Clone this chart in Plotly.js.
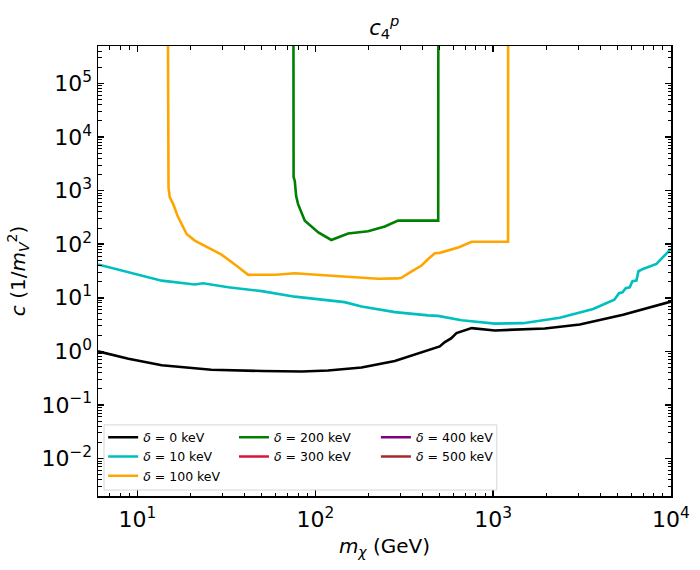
<!DOCTYPE html>
<html>
<head>
<meta charset="utf-8">
<script src="https://cdn.plot.ly/plotly-3.0.1.min.js"></script>
<style>
  body { margin: 0; background: #fff; }
  #chart { width: 700px; height: 570px; }
</style>
</head>
<body>
<div id="chart"></div>
<script>
// values (upper limits on c_4^p)
var TOP = 1e7; // vertical edges run off the top of the frame

var mass0 = [6.0, 8.9, 13.7, 26, 50, 84, 118, 182, 280, 431, 501, 535, 580, 622, 700, 757, 1023, 1574, 1952, 3070, 5380, 10000];
var lim0 = [1.0, 0.73, 0.55, 0.455, 0.43, 0.42, 0.44, 0.50, 0.66, 1.05, 1.24, 1.49, 1.75, 2.19, 2.5, 2.72, 2.46, 2.57, 2.68, 3.18, 4.82, 8.5];

var mass10 = [6.0, 8.9, 13.7, 21, 23.4, 32.4, 50, 76.7, 118, 146, 182, 280, 431, 490, 664, 1023, 1470, 2370, 3650, 4530, 4800, 5100, 5340, 5560, 5860, 6070, 6390, 6560, 6960, 8280, 10000];
var lim10 = [42, 30, 20.9, 17.7, 18.7, 15.7, 13.3, 10.5, 8.9, 8.3, 6.9, 5.4, 4.7, 4.6, 3.8, 3.3, 3.36, 4.24, 6.2, 8.3, 9.2, 12.2, 12.7, 15.1, 15.7, 20.4, 21, 31.3, 34.6, 42.9, 81.8];

var mass100 = [14.8, 14.83, 14.95, 15.2, 15.9, 16.8, 17.7, 18.9, 21, 25, 29.7, 35.3, 42, 60, 76.7, 118, 182, 225, 290, 305, 348, 396, 431, 470, 501, 566, 642, 757, 1213, 1214];
var lim100 = [TOP, 1800, 1150, 746, 560, 340, 239, 155, 117, 85, 64, 41.7, 26.8, 27, 28.7, 26, 23.6, 22.6, 23, 23.6, 31, 40, 53, 68, 69, 78, 88, 111, 111, TOP];

var mass200 = [75.3, 75.5, 76.7, 78, 80, 87.3, 104, 123, 153, 198, 246, 292, 491, 492];
var lim200 = [TOP, 1800, 1500, 800, 560, 275, 166, 120, 159, 174, 214, 275, 275, TOP];

// no limit inside the plotted mass range for the larger splittings
var mass300 = [2e4, 3e4], lim300 = [1, 1];
var mass400 = [2e4, 3e4], lim400 = [1, 1];
var mass500 = [2e4, 3e4], lim500 = [1, 1];

var deltas = ['0', '10', '100', '200', '300', '400', '500'];
var colors = ['black', '#00bfbf', 'orange', 'green', 'crimson', 'purple', 'brown'];
var legendOf = ['legend', 'legend', 'legend', 'legend2', 'legend2', 'legend3', 'legend3'];
var masses = [mass0, mass10, mass100, mass200, mass300, mass400, mass500];
var limits = [lim0, lim10, lim100, lim200, lim300, lim400, lim500];

var traces = [];
for (var i = 0; i < deltas.length; i++) {
  traces.push({
    x: masses[i],
    y: limits[i],
    type: 'scatter',
    mode: 'lines',
    name: '<i>δ</i> = ' + deltas[i] + ' keV',
    legend: legendOf[i],
    legendgroup: 'g' + i,
    line: { color: colors[i], width: 2.6 },
    cliponaxis: true
  });
}

// log ticks
function powLabel(p) {
  return '10<sup>' + (p < 0 ? '\u2212' + (-p) : p) + '</sup>';
}
var xMajor = [], xText = [], xMinor = [];
for (var p = 1; p <= 4; p++) { xMajor.push(Math.pow(10, p)); xText.push(powLabel(p)); }
for (var p = 0; p <= 3; p++) for (var m = 2; m <= 9; m++) xMinor.push(m * Math.pow(10, p));
var yMajor = [], yText = [], yMinor = [];
for (var p = -2; p <= 5; p++) { yMajor.push(Math.pow(10, p)); yText.push(powLabel(p)); }
for (var p = -3; p <= 5; p++) for (var m = 2; m <= 9; m++) yMinor.push(m * Math.pow(10, p));

function axis(extra) {
  var a = {
    type: 'log',
    showgrid: false,
    zeroline: false,
    showline: true,
    linecolor: 'black',
    linewidth: 1.5,
    mirror: 'allticks',
    ticks: 'inside',
    ticklen: 6,
    tickwidth: 1.5,
    tickcolor: 'black',
    tickmode: 'array',
    tickfont: { family: 'DejaVu Sans', size: 22, color: 'black' }
  };
  for (var k in extra) a[k] = extra[k];
  return a;
}

function legendAt(x) {
  return {
    x: x, xanchor: 'left',
    y: 0.163, yanchor: 'top',
    bgcolor: 'rgba(0,0,0,0)',
    borderwidth: 0,
    font: { family: 'DejaVu Sans', size: 12.5, color: 'black' },
    tracegroupgap: 0
  };
}

var layout = {
  width: 700,
  height: 570,
  margin: { l: 98, r: 29, t: 46, b: 74 },
  paper_bgcolor: 'white',
  plot_bgcolor: 'white',
  font: { family: 'DejaVu Sans', size: 20, color: 'black' },
  title: {
    text: '<i>c</i><sub>4</sub><sup><i>p</i></sup>',
    font: { family: 'DejaVu Sans', size: 21, color: 'black' },
    x: 0.549, xanchor: 'center',
    y: 0.952, yanchor: 'middle'
  },
  xaxis: axis({
    range: [Math.log10(6), 4],
    tickvals: xMajor,
    ticktext: xText,
    ticklabelstandoff: 3,
    minor: { tickmode: 'array', tickvals: xMinor, ticks: 'inside', ticklen: 3.5, tickwidth: 1, tickcolor: 'black' },
    title: { text: '<i>m</i><sub><i>χ</i></sub> (GeV)', font: { family: 'DejaVu Sans', size: 20, color: 'black' }, standoff: 8 }
  }),
  yaxis: axis({
    range: [Math.log10(2e-3), Math.log10(5e5)],
    tickvals: yMajor,
    ticktext: yText,
    minor: { tickmode: 'array', tickvals: yMinor, ticks: 'inside', ticklen: 3.5, tickwidth: 1, tickcolor: 'black' },
    title: { text: '<i>c</i> (1/<i>m</i><sub><i>V</i></sub><sup>2</sup>)', font: { family: 'DejaVu Sans', size: 20, color: 'black' }, standoff: 10 }
  }),
  legend: legendAt(0.009),
  legend2: legendAt(0.2373),
  legend3: legendAt(0.485),
  shapes: [{
    type: 'rect',
    xref: 'paper', yref: 'paper',
    x0: 0.0105, x1: 0.696, y0: 0.0133, y1: 0.158,
    fillcolor: 'rgba(255,255,255,0.8)',
    line: { color: '#d6d6d6', width: 1 },
    layer: 'above'
  }],
  showlegend: true
};

Plotly.newPlot('chart', traces, layout, { displayModeBar: false, staticPlot: true });
</script>
</body>
</html>
